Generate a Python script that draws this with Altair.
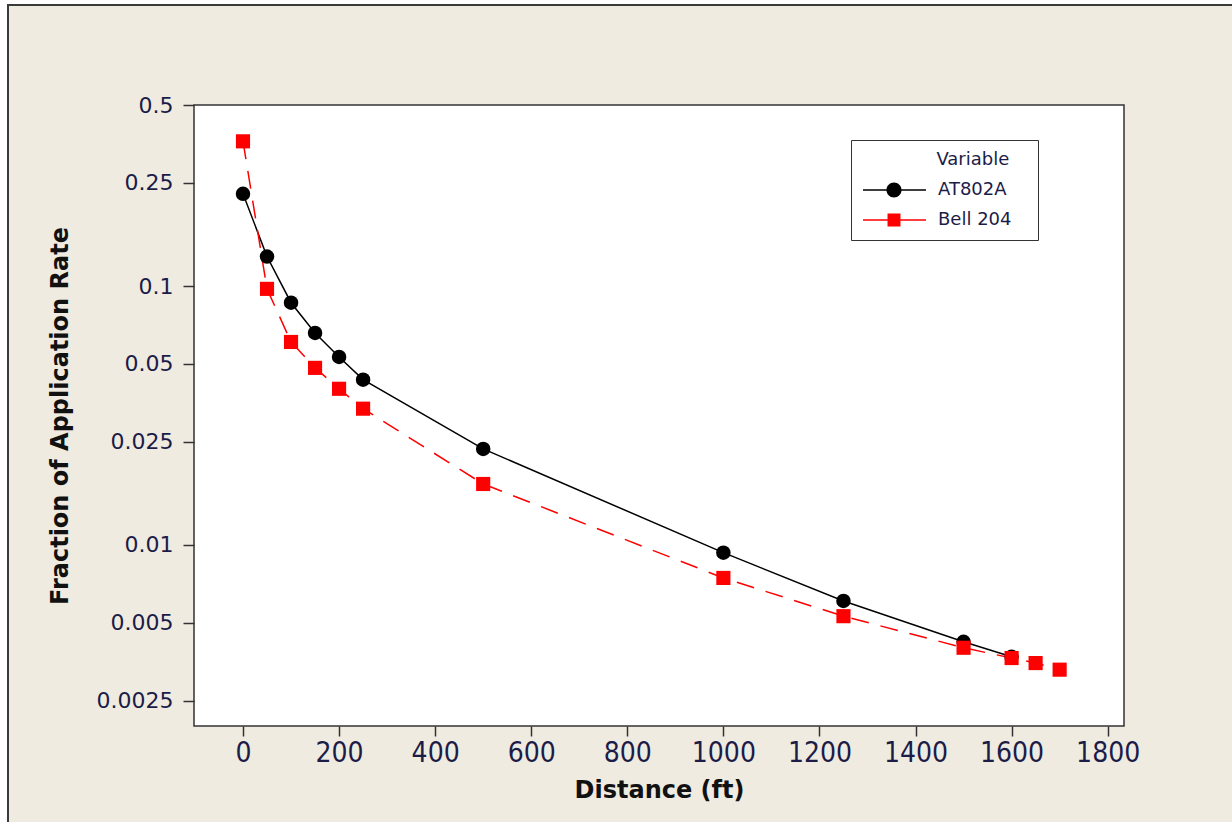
import altair as alt
import pandas as pd

# ---- data ----
series_names = ["AT802A", "Bell 204"]
dist_a = [0, 50, 100, 150, 200, 250, 500, 1000, 1250, 1500, 1600]
frac_a = [0.227, 0.130, 0.0862, 0.0659, 0.0532, 0.0435, 0.0235, 0.00934, 0.00608, 0.00423, 0.00370]
dist_b = [0, 50, 100, 150, 200, 250, 500, 1000, 1250, 1500, 1600, 1650, 1700]
frac_b = [0.362, 0.0975, 0.0608, 0.0483, 0.0401, 0.0336, 0.0172, 0.00746, 0.00531, 0.00401, 0.00366, 0.00350, 0.00330]
x_ticks = [0, 200, 400, 600, 800, 1000, 1200, 1400, 1600, 1800]
y_ticks = [0.0025, 0.005, 0.01, 0.025, 0.05, 0.1, 0.25, 0.5]

df_a = pd.DataFrame({"Distance": dist_a, "Fraction": frac_a, "Variable": series_names[0]})
df_b = pd.DataFrame({"Distance": dist_b, "Fraction": frac_b, "Variable": series_names[1]})
df_all = pd.concat([df_a, df_b], ignore_index=True)

W, H = 930, 621
PAD = {"left": 194, "top": 105, "right": 108, "bottom": 96}
NAVY = "#1c1c48"
BEIGE = "#efebe1"

x_enc = alt.X(
    "Distance:Q",
    scale=alt.Scale(domain=[-102, 1834], nice=False, zero=False),
    axis=alt.Axis(
        values=x_ticks, format="d", title="Distance (ft)", grid=False, domain=False,
        tickSize=10, tickWidth=1.5, tickColor="#333333",
        labelFont="DejaVu Sans Condensed, Liberation Sans", labelFontSize=28, labelColor=NAVY,
        labelPadding=3, titleFont="DejaVu Sans", titleFontSize=24,
        titleFontWeight="bold", titleColor="#111111", titlePadding=11,
        zindex=1,
    ),
)
y_enc = alt.Y(
    "Fraction:Q",
    scale=alt.Scale(type="log", domain=[0.002, 0.5], nice=False),
    axis=alt.Axis(
        values=y_ticks, format="~g", title="Fraction of Application Rate",
        grid=False, domain=False, tickSize=11, tickWidth=1.5, tickColor="#333333",
        labelFont="DejaVu Sans", labelFontSize=22, labelColor=NAVY, labelPadding=10,
        titleFont="DejaVu Sans", titleFontSize=24, titleFontWeight="bold",
        titleColor="#111111", titlePadding=24, zindex=1,
    ),
)

one = alt.Data(values=[{}])
bg = alt.Chart(one).mark_rect(fill=BEIGE, stroke="#3a3a3a", strokeWidth=2).encode(
    x=alt.value(-186), x2=alt.value(1060), y=alt.value(-100), y2=alt.value(740)
)
plot_bg = alt.Chart(one).mark_rect(fill="white", stroke="#333333", strokeWidth=1.5).encode(
    x=alt.value(0), x2=alt.value(W), y=alt.value(0), y2=alt.value(H)
)

line_a = alt.Chart(df_a).mark_line(color="black", strokeWidth=1.5).encode(x=x_enc, y=y_enc)
line_b = alt.Chart(df_b).mark_line(color="#ff0000", strokeWidth=1.5, strokeDash=[18, 12]).encode(x=x_enc, y=y_enc)
pts_a = alt.Chart(df_a).mark_point(shape="circle", filled=True, color="black", size=210, opacity=1).encode(x=x_enc, y=y_enc)
pts_b = alt.Chart(df_b).mark_point(shape="square", filled=True, color="#ff0000", size=200, opacity=1).encode(x=x_enc, y=y_enc)

# legend symbols: a line with the marker on it (units of 8 px)
sym_a = "M-1,-0.1H6.875V0.1H-1Z M1.935,0A0.94,0.94,0,1,1,3.815,0A0.94,0.94,0,1,1,1.935,0Z"
sym_b = "M-1,-0.1H6.875V0.1H-1Z M2.065,-0.81H3.685V0.81H2.065Z"
NBSP = "\u00a0"
ZW = "\u200b"

legend = alt.Legend(
    title=ZW + NBSP * 13 + "Variable" + NBSP * 3 + ZW, orient="none", legendX=657, legendY=35,
    padding=11, fillColor="white", strokeColor="#333333",
    titleFont="DejaVu Sans", titleFontSize=18, titleFontWeight="normal", titleColor=NAVY,
    titleAnchor="start", titleAlign="left", titlePadding=12,
    labelFont="DejaVu Sans", labelFontSize=18, labelColor=NAVY, labelOffset=58,
    symbolSize=256, symbolStrokeWidth=0, symbolOpacity=1, rowPadding=12,
)
leg_layer = alt.Chart(df_all).mark_point(filled=True, opacity=0).encode(
    x=x_enc, y=y_enc,
    color=alt.Color("Variable:N", scale=alt.Scale(domain=series_names, range=["black", "#ff0000"]), legend=legend),
    shape=alt.Shape("Variable:N", scale=alt.Scale(domain=series_names, range=[sym_a, sym_b]), legend=legend),
)

chart = alt.layer(bg, plot_bg, line_a, line_b, pts_a, pts_b, leg_layer).properties(
    width=W, height=H, padding=PAD, autosize=alt.AutoSizeParams(type="none"),
    background="white",
).configure_view(stroke="transparent")

chart.save("out.html", embed_options={"renderer": "svg", "actions": False})
